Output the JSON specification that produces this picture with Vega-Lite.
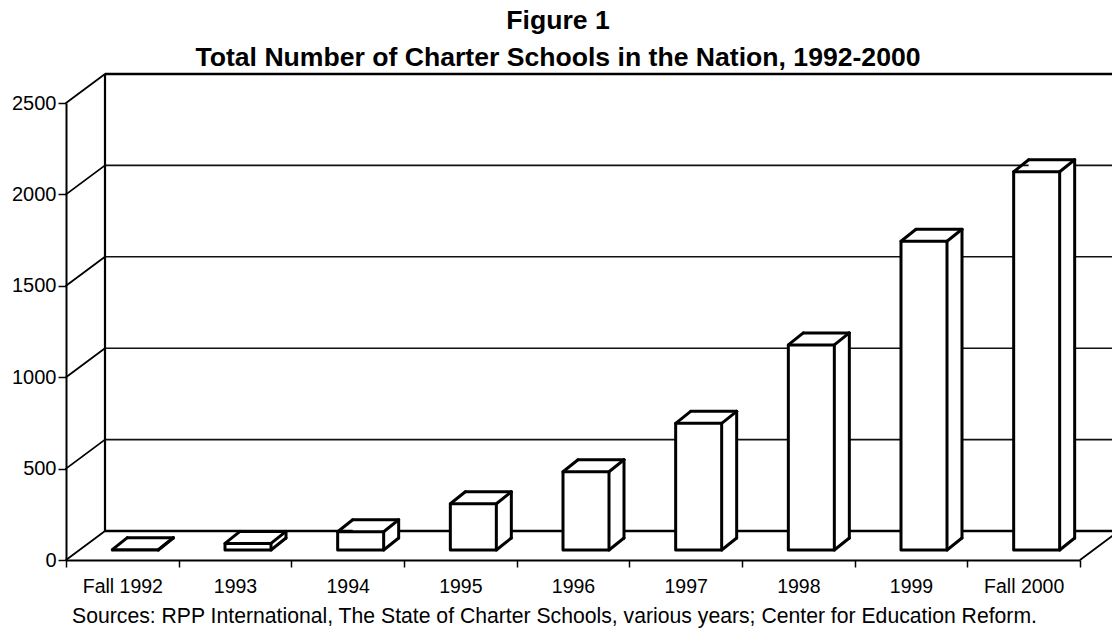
{
  "$schema": "https://vega.github.io/schema/vega-lite/v6.json",
  "width": 1014,
  "height": 457,
  "autosize": {"type": "none"},
  "padding": {"left": 66, "top": 103, "right": 32, "bottom": 75},
  "background": "white",
  "title": {
    "text": ["Figure 1", "Total Number of Charter Schools in the Nation, 1992-2000"],
    "font": "Liberation Sans",
    "fontSize": 26.6,
    "fontWeight": "bold",
    "lineHeight": 37,
    "anchor": "middle",
    "frame": "group",
    "color": "black",
    "offset": 1,
    "dx": -15
  },
  "datasets": {
    "schools": [
      {"year": "Fall 1992", "n": 2},
      {"year": "1993", "n": 36},
      {"year": "1994", "n": 100},
      {"year": "1995", "n": 253},
      {"year": "1996", "n": 428},
      {"year": "1997", "n": 693},
      {"year": "1998", "n": 1122},
      {"year": "1999", "n": 1689},
      {"year": "Fall 2000", "n": 2069}
    ],
    "grid": [{"v": 0}, {"v": 500}, {"v": 1000}, {"v": 1500}, {"v": 2000}, {"v": 2500}],
    "one": [{"k": 1}]
  },
  "config": {
    "view": {"stroke": null},
    "font": "Liberation Sans",
    "axis": {"grid": false, "domainColor": "black", "domainWidth": 2, "tickColor": "black", "tickWidth": 1.5, "labelColor": "black", "labelFont": "Liberation Sans", "titleColor": "black", "titleFont": "Liberation Sans"},
    "axisX": {"labelAngle": 0, "labelFontSize": 19.5, "labelPadding": 10, "tickBand": "extent", "tickSize": 7, "titleFontSize": 21.2, "titleFontWeight": "normal", "titlePadding": 10, "titleX": 488},
    "axisY": {"labelFontSize": 20, "labelPadding": 2, "tickSize": 8, "format": "d", "values": [0, 500, 1000, 1500, 2000, 2500]}
  },
  "layer": [
    {
      "data": {"name": "grid"},
      "mark": {"type": "rule", "color": "#111", "strokeWidth": 1.6, "xOffset": 39, "x2Offset": 39, "yOffset": -29},
      "encoding": {
        "x": {"datum": "Fall 1992", "type": "nominal", "bandPosition": 0,
          "scale": {"domain": ["Fall 1992", "1993", "1994", "1995", "1996", "1997", "1998", "1999", "Fall 2000"], "paddingInner": 0, "paddingOuter": 0},
          "axis": {"title": "Sources: RPP International, The State of Charter Schools,  various years; Center for Education Reform."}
        },
        "x2": {"datum": "Fall 2000", "bandPosition": 1},
        "y": {"field": "v", "type": "quantitative",
          "scale": {"domain": [0, 2500], "nice": false},
          "axis": {"title": null, "format": "d", "values": [0, 500, 1000, 1500, 2000, 2500]}
        }
      }
    },
    {
      "data": {"name": "grid"},
      "transform": [{"filter": "datum.v == 0 || datum.v == 2500"}],
      "mark": {"type": "rule", "color": "black", "strokeWidth": 2.6, "xOffset": 39, "x2Offset": 39, "yOffset": -29},
      "encoding": {
        "x": {"datum": "Fall 1992", "type": "nominal", "bandPosition": 0},
        "x2": {"datum": "Fall 2000", "bandPosition": 1},
        "y": {"field": "v", "type": "quantitative"}
      }
    },
    {
      "data": {"name": "grid"},
      "mark": {"type": "rule", "color": "black", "strokeWidth": 1.8, "x2Offset": 39, "y2Offset": -29, "strokeCap": "round"},
      "encoding": {
        "x": {"datum": "Fall 1992", "type": "nominal", "bandPosition": 0},
        "x2": {"datum": "Fall 1992", "bandPosition": 0},
        "y": {"field": "v", "type": "quantitative"},
        "y2": {"field": "v"}
      }
    },
    {
      "data": {"name": "one"},
      "mark": {"type": "rule", "color": "black", "strokeWidth": 2.2, "xOffset": 39, "x2Offset": 39, "yOffset": -29, "y2Offset": -29},
      "encoding": {
        "x": {"datum": "Fall 1992", "type": "nominal", "bandPosition": 0},
        "x2": {"datum": "Fall 1992", "bandPosition": 0},
        "y": {"datum": 0, "type": "quantitative"},
        "y2": {"datum": 2500}
      }
    },
    {
      "data": {"name": "one"},
      "mark": {"type": "rule", "color": "black", "strokeWidth": 1.8, "x2Offset": 39, "y2Offset": -29},
      "encoding": {
        "x": {"datum": "Fall 2000", "type": "nominal", "bandPosition": 1},
        "x2": {"datum": "Fall 2000", "bandPosition": 1},
        "y": {"datum": 0, "type": "quantitative"},
        "y2": {"datum": 0}
      }
    },
    {
      "data": {"name": "schools"},
      "mark": {"type": "bar", "width": 46, "fill": "white", "strokeWidth": 0, "xOffset": 28, "yOffset": -22, "y2Offset": -22},
      "encoding": {
        "x": {"field": "year", "type": "nominal", "sort": null},
        "y": {"field": "n", "type": "quantitative"}
      }
    },
    {
      "data": {"name": "schools"},
      "mark": {"type": "bar", "width": 46, "fill": "white", "stroke": "black", "strokeWidth": 3, "strokeJoin": "round", "xOffset": 13, "yOffset": -10, "y2Offset": -10},
      "encoding": {
        "x": {"field": "year", "type": "nominal", "sort": null},
        "y": {"field": "n", "type": "quantitative"}
      }
    },
    {
      "data": {"name": "schools"},
      "mark": {"type": "rule", "color": "black", "strokeWidth": 3, "strokeCap": "round", "xOffset": -10, "yOffset": -10, "x2Offset": 5, "y2Offset": -22},
      "encoding": {
        "x": {"field": "year", "type": "nominal", "sort": null},
        "x2": {"field": "year"},
        "y": {"field": "n", "type": "quantitative"},
        "y2": {"field": "n"}
      }
    },
    {
      "data": {"name": "schools"},
      "mark": {"type": "rule", "color": "black", "strokeWidth": 3, "strokeCap": "round", "xOffset": 5, "yOffset": -22, "x2Offset": 51, "y2Offset": -22},
      "encoding": {
        "x": {"field": "year", "type": "nominal", "sort": null},
        "x2": {"field": "year"},
        "y": {"field": "n", "type": "quantitative"},
        "y2": {"field": "n"}
      }
    },
    {
      "data": {"name": "schools"},
      "mark": {"type": "rule", "color": "black", "strokeWidth": 3, "strokeCap": "round", "xOffset": 51, "yOffset": -22, "x2Offset": 36, "y2Offset": -10},
      "encoding": {
        "x": {"field": "year", "type": "nominal", "sort": null},
        "x2": {"field": "year"},
        "y": {"field": "n", "type": "quantitative"},
        "y2": {"field": "n"}
      }
    },
    {
      "data": {"name": "schools"},
      "mark": {"type": "rule", "color": "black", "strokeWidth": 3, "strokeCap": "round", "xOffset": 51, "yOffset": -22, "x2Offset": 51, "y2Offset": -22},
      "encoding": {
        "x": {"field": "year", "type": "nominal", "sort": null},
        "x2": {"field": "year"},
        "y": {"field": "n", "type": "quantitative"},
        "y2": {"datum": 0}
      }
    },
    {
      "data": {"name": "schools"},
      "mark": {"type": "rule", "color": "black", "strokeWidth": 3, "strokeCap": "round", "xOffset": 51, "yOffset": -22, "x2Offset": 36, "y2Offset": -10},
      "encoding": {
        "x": {"field": "year", "type": "nominal", "sort": null},
        "x2": {"field": "year"},
        "y": {"datum": 0, "type": "quantitative"},
        "y2": {"datum": 0}
      }
    }
  ]
}
